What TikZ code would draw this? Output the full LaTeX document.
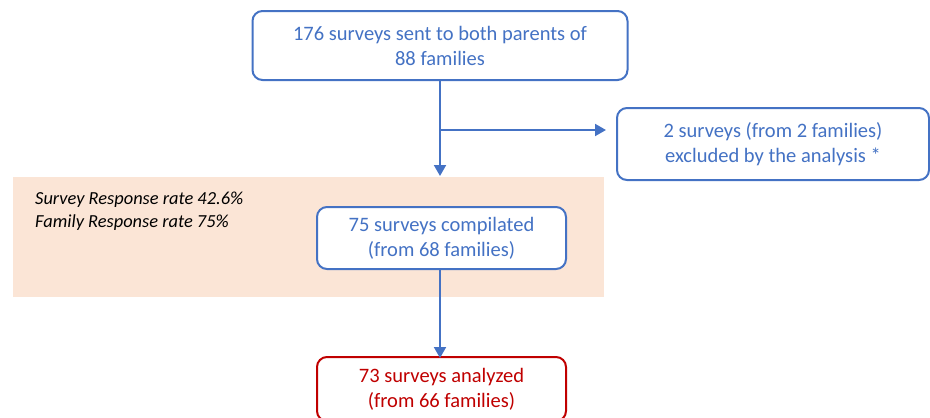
\documentclass[tikz,border=0pt]{standalone}
\usepackage{fontspec}
\setmainfont{Carlito}
\usetikzlibrary{arrows.meta}
\definecolor{flowblue}{HTML}{4472C4}
\definecolor{flowred}{HTML}{C00000}
\definecolor{peach}{HTML}{FBE5D6}
\begin{document}
\begin{tikzpicture}[x=1pt, y=-1pt,
  box/.style={draw=flowblue, line width=2pt, rounded corners=10pt, fill=white,
    text=flowblue, align=center, inner sep=0pt,
    font=\fontsize{20.5}{25}\selectfont},
  redbox/.style={box, draw=flowred, text=flowred},
  flow/.style={draw=flowblue, line width=2pt, -{Triangle[width=12pt,length=11pt]}},
  note/.style={anchor=west, font=\fontsize{18.4}{23}\selectfont\itshape, inner sep=0pt}]
\useasboundingbox (0,0) rectangle (930,418);
% shaded band {{{
\fill[peach] (13,177) rectangle (604,297);
\node[note] (srate) at (35,200) {Survey Response rate 42.6\%};
\node[note] (frate) at (35,223) {Family Response rate 75\%};
% }}}
% boxes {{{
\node[box, minimum width=375pt, minimum height=69pt] (sent) at (440,45.5)
  {176 surveys sent to both parents of\\88 families};
\node[box, minimum width=312pt, minimum height=72pt] (excl) at (773,144)
  {2 surveys (from 2 families)\\excluded by the analysis *};
\node[box, minimum width=249pt, minimum height=62pt] (comp) at (441.5,238)
  {75 surveys compilated\\(from 68 families)};
\node[redbox, minimum width=249pt, minimum height=64pt] (anal) at (441.5,389)
  {73 surveys analyzed\\(from 66 families)};
% }}}
% arrows {{{
\coordinate (split) at (sent.south |- 0,130);
\coordinate (band) at (440,176);
\draw[flow] (sent.south) -- (band);
\draw[flow] (split) -- ([xshift=-10pt]excl.west |- split);
\draw[flow] (comp.south -| band) -- ([yshift=-2pt]anal.north -| band);
% }}}
\end{tikzpicture}
\end{document}
